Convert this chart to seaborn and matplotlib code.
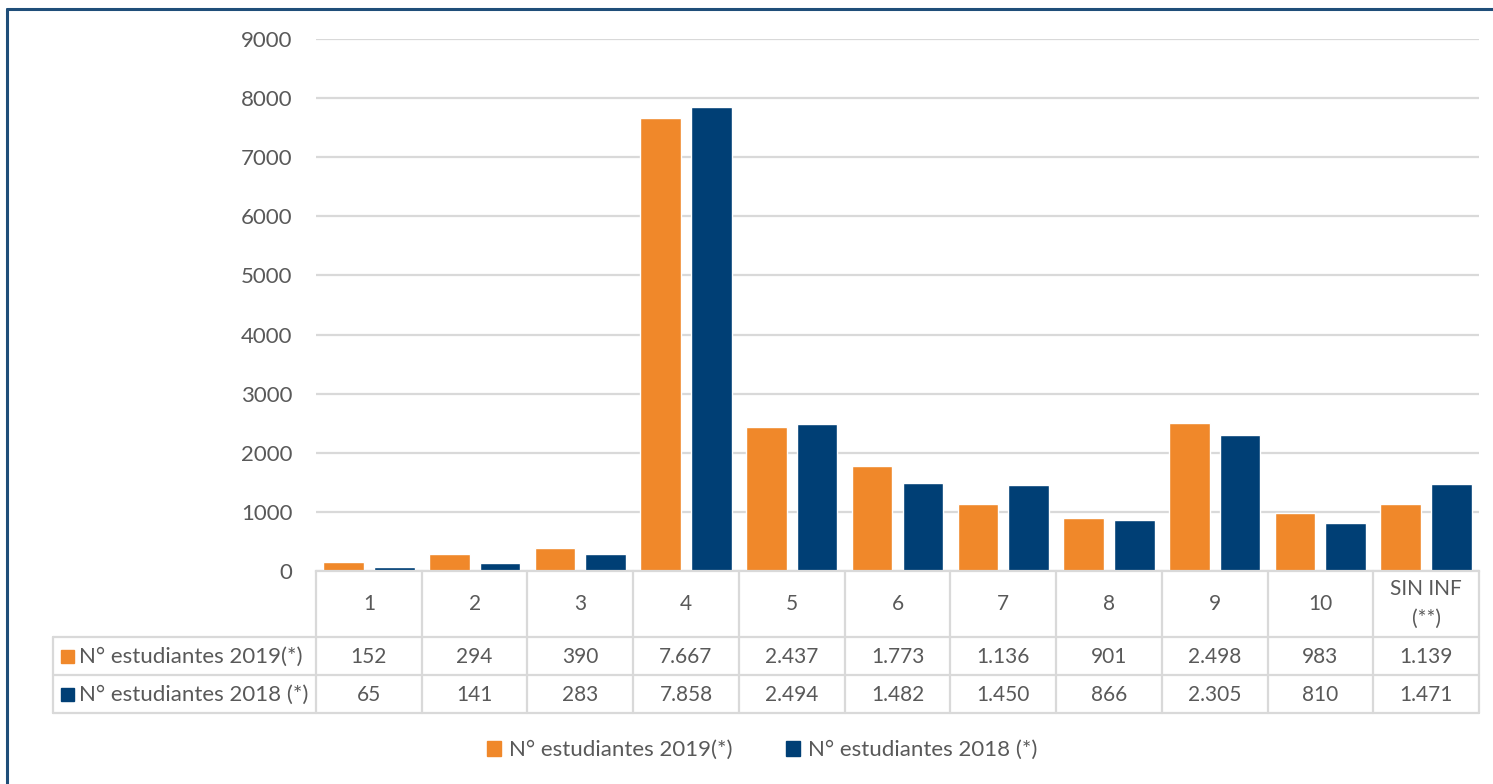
import pandas as pd
import matplotlib.pyplot as plt
import seaborn as sns
from matplotlib.patches import Rectangle, Patch
from matplotlib.lines import Line2D

# Datos
categorias = ['1', '2', '3', '4', '5', '6', '7', '8', '9', '10', 'SIN INF\n(**)']
serie_2019 = [152, 294, 390, 7667, 2437, 1773, 1136, 901, 2498, 983, 1139]
serie_2018 = [65, 141, 283, 7858, 2494, 1482, 1450, 866, 2305, 810, 1471]
nombre_2019 = 'N° estudiantes 2019(*)'
nombre_2018 = 'N° estudiantes 2018 (*)'
y_ticks = [0, 1000, 2000, 3000, 4000, 5000, 6000, 7000, 8000, 9000]

NARANJA = '#F0882A'
AZUL = '#003F75'
GRIS_TXT = '#595959'
GRIS_LIN = '#D9D9D9'

df = pd.DataFrame({
    'cat': categorias * 2,
    'valor': serie_2019 + serie_2018,
    'serie': [nombre_2019] * len(categorias) + [nombre_2018] * len(categorias),
})

sns.set_style('white')
plt.rcParams['font.family'] = ['Lato', 'DejaVu Sans']

W, H = 1493, 784
fig = plt.figure(figsize=(W / 100, H / 100), dpi=100)

# posiciones en pixeles
x_left, x_right = 316, 1479
y_top, y_base = 39, 571
tab_left = 53
fila1, fila2, fila3 = 637, 675, 713

ax = fig.add_axes([x_left / W, 1 - y_base / H, (x_right - x_left) / W, (y_base - y_top) / H])
sns.barplot(data=df, x='cat', y='valor', hue='serie', palette=[NARANJA, AZUL],
            width=0.96, gap=0.2, legend=False, ax=ax, saturation=1)
ax.set_xlim(-0.5, len(categorias) - 0.5)
ax.set_ylim(0, 9000)
ax.set_yticks(y_ticks)
ax.set_yticklabels([str(t) for t in y_ticks], color=GRIS_TXT, fontsize=16)
ax.tick_params(axis='y', length=0, pad=17)
ax.set_xticks([])
ax.set_xlabel('')
ax.set_ylabel('')
ax.grid(axis='y', color=GRIS_LIN, linewidth=1.6)
ax.set_axisbelow(True)
for s in ['top', 'right', 'left']:
    ax.spines[s].set_visible(False)
ax.spines['bottom'].set_color(GRIS_LIN)
ax.spines['bottom'].set_linewidth(1.6)

# Tabla de datos
ancho_cat = (x_right - x_left) / len(categorias)
x0 = -0.5 - (x_left - tab_left) / ancho_cat
tab = fig.add_axes([tab_left / W, 1 - fila3 / H, (x_right - tab_left) / W, (fila3 - y_base) / H])
tab.set_xlim(x0, len(categorias) - 0.5)
tab.set_ylim(fila3, y_base)
tab.axis('off')

lw = 1.6
for i in range(len(categorias) + 1):
    tab.plot([i - 0.5, i - 0.5], [y_base, fila3], color=GRIS_LIN, lw=lw, clip_on=False)
tab.plot([x0, x0], [fila1, fila3], color=GRIS_LIN, lw=lw, clip_on=False)
for yy in [fila1, fila2, fila3]:
    tab.plot([x0, len(categorias) - 0.5], [yy, yy], color=GRIS_LIN, lw=lw, clip_on=False)

for i, c in enumerate(categorias):
    tab.text(i, (y_base + fila1) / 2, c, ha='center', va='center', color=GRIS_TXT,
             fontsize=15, linespacing=1.6)
    tab.text(i, (fila1 + fila2) / 2 + 1, f'{serie_2019[i]:,}'.replace(',', '.'),
             ha='center', va='center', color=GRIS_TXT, fontsize=15)
    tab.text(i, (fila2 + fila3) / 2 + 1, f'{serie_2018[i]:,}'.replace(',', '.'),
             ha='center', va='center', color=GRIS_TXT, fontsize=15)

sq = 13 / ancho_cat
for yy, col, nom in [((fila1 + fila2) / 2, NARANJA, nombre_2019), ((fila2 + fila3) / 2, AZUL, nombre_2018)]:
    tab.add_patch(Rectangle((x0 + 8 / ancho_cat, yy - 6.5), sq, 13, color=col, clip_on=False))
    tab.text(x0 + 26 / ancho_cat, yy + 1, nom, ha='left', va='center', color=GRIS_TXT, fontsize=16)

# Leyenda
handles = [Patch(color=NARANJA), Patch(color=AZUL)]
fig.legend(handles, [nombre_2019, nombre_2018], loc='center', bbox_to_anchor=(762 / W, 1 - 750 / H),
           ncol=2, frameon=False, fontsize=16, labelcolor=GRIS_TXT, handlelength=0.65,
           handleheight=0.65, handletextpad=0.35, columnspacing=2.4)

# Borde azul
fig.add_artist(Line2D([7 / W, 1], [1 - 9 / H, 1 - 9 / H], color='#1F4E79', lw=2.2))
fig.add_artist(Line2D([7 / W, 7 / W], [0, 1 - 9 / H], color='#1F4E79', lw=2.2))

fig.savefig('out.png', dpi=100, facecolor='white')
